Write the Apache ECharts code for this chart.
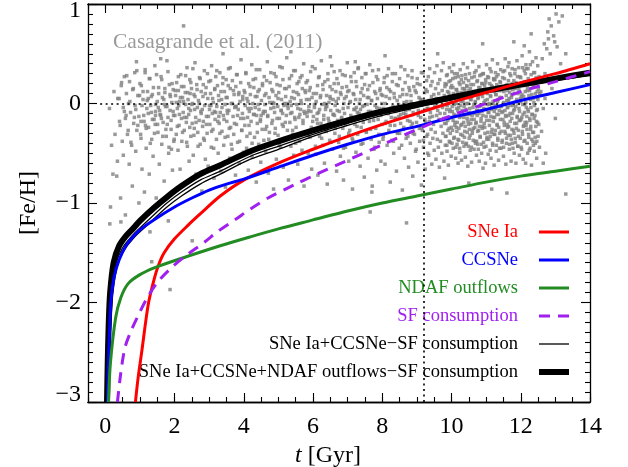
<!DOCTYPE html>
<html><head><meta charset="utf-8">
<script src="https://cdn.jsdelivr.net/npm/echarts@6/dist/echarts.min.js"></script>
<style>html,body{margin:0;padding:0;background:#fff}#c{width:628px;height:467px}</style>
</head><body><div id="c"></div>
<script>
// ---------- axis ticks / labels ----------
const xMajorTicks = [0, 2, 4, 6, 8, 10, 12, 14];
const yMajorTicks = [-3, -2, -1, 0, 1];
const xTitle = 't [Gyr]';
const yTitle = '[Fe/H]';
const sourceNote = 'Casagrande et al. (2011)';
const refLineFeH = 0;
const refLineAge = 9.2;

// ---------- model curves [t (Gyr), [Fe/H]] ----------
const snIaCurve = [[0.87,-3.0],[0.95,-2.75],[1.05,-2.5],[1.24,-2.02],[1.4,-1.78],[1.53,-1.63],[1.7,-1.5],[2.0,-1.36],[2.4,-1.22],[2.74,-1.11],[3.32,-0.93],[4.0,-0.77],[5.0,-0.6],[6.0,-0.46],[7.0,-0.33],[8.0,-0.21],[9.0,-0.1],[10.0,0.01],[11.0,0.11],[12.0,0.21],[13.0,0.3],[14.0,0.4]];
const ccsnCurve = [[0.06,-3.0],[0.1,-2.5],[0.16,-2.0],[0.25,-1.75],[0.4,-1.57],[0.6,-1.43],[0.8,-1.34],[1.0,-1.27],[1.4,-1.17],[2.0,-1.04],[2.5,-0.95],[3.0,-0.87],[3.5,-0.81],[4.0,-0.76],[5.0,-0.64],[6.0,-0.52],[7.0,-0.41],[8.0,-0.31],[9.0,-0.23],[10.0,-0.14],[11.0,-0.06],[12.0,0.03],[13.0,0.11],[14.0,0.19]];
const ndafCurve = [[0.09,-3.0],[0.15,-2.6],[0.3,-2.15],[0.45,-1.95],[0.66,-1.81],[1.0,-1.72],[1.43,-1.65],[2.17,-1.56],[3.32,-1.43],[4.19,-1.34],[5.0,-1.26],[6.0,-1.17],[7.0,-1.08],[8.0,-1.0],[9.0,-0.93],[10.0,-0.86],[11.0,-0.79],[12.0,-0.73],[13.0,-0.68],[14.0,-0.63]];
const sfCurve = [[0.35,-3.0],[0.45,-2.7],[0.57,-2.45],[0.75,-2.28],[0.95,-2.13],[1.2,-1.96],[1.5,-1.8],[1.91,-1.65],[2.4,-1.51],[2.84,-1.4],[3.27,-1.28],[3.74,-1.17],[4.19,-1.06],[4.7,-0.95],[5.5,-0.81],[6.11,-0.71],[7.0,-0.57],[8.03,-0.41],[9.0,-0.26],[10.0,-0.12],[11.0,0.0],[12.0,0.12],[13.0,0.22],[14.0,0.32]];
const thinModelCurve = [[0.06,-3.0],[0.09,-2.6],[0.13,-2.2],[0.18,-1.9],[0.3,-1.62],[0.5,-1.45],[0.8,-1.32],[1.0,-1.25],[1.4,-1.12],[1.78,-1.0],[2.2,-0.89],[2.74,-0.77],[3.32,-0.68],[4.19,-0.53],[5.0,-0.43],[6.0,-0.31],[7.0,-0.2],[8.0,-0.1],[9.0,-0.03],[10.0,0.05],[11.0,0.12],[12.0,0.18],[13.0,0.24],[14.0,0.3]];
const thinModelCurve2 = [[0.08,-3.0],[0.11,-2.6],[0.16,-2.2],[0.22,-1.9],[0.35,-1.63],[0.55,-1.47],[0.8,-1.36],[1.0,-1.29],[1.4,-1.16],[1.78,-1.04],[2.2,-0.93],[2.74,-0.81],[3.32,-0.71],[4.19,-0.56],[5.0,-0.46],[6.0,-0.33],[7.0,-0.22],[8.0,-0.12],[9.0,-0.04],[10.0,0.04],[11.0,0.11],[12.0,0.17],[13.0,0.23],[14.0,0.28]];
const fullModelCurve = [[0.05,-3.0],[0.07,-2.6],[0.1,-2.2],[0.14,-1.9],[0.24,-1.6],[0.4,-1.43],[0.6,-1.33],[0.82,-1.25],[1.0,-1.18],[1.4,-1.05],[1.78,-0.94],[2.2,-0.83],[2.74,-0.71],[3.32,-0.62],[4.19,-0.48],[5.0,-0.38],[6.0,-0.27],[7.0,-0.17],[8.0,-0.08],[9.0,-0.01],[10.0,0.06],[11.0,0.13],[12.0,0.19],[13.0,0.25],[14.0,0.31]];

// ---------- Casagrande et al. (2011) stars [age, [Fe/H]] ----------
const starsOldest = [[0.12,-0.05],[0.15,-1.04],[0.18,-0.42],[0.22,-0.71],[0.25,0.12],[0.28,-0.31],[0.33,-0.73],[0.36,0.05],[0.41,-0.18],[0.44,-0.95],[0.47,0.21],[0.52,-0.52],[0.55,-0.08],[0.58,-1.12],[0.62,0.28],[0.66,-0.27],[0.69,-0.61],[0.71,0.02],[0.74,-0.39],[0.78,-0.83],[0.81,0.15],[0.84,-0.14],[0.88,-0.48],[0.91,0.33],[0.94,-0.22],[0.97,-1.0],[0.99,0.08],[0.35,-0.58],[0.6,-0.12],[0.86,-0.02],
[1.02,-0.31],[1.04,0.18],[1.06,-0.66],[1.09,0.04],[1.11,-0.12],[1.13,-0.89],[1.15,0.31],[1.18,-0.45],[1.2,-0.05],[1.22,0.12],[1.25,-0.24],[1.27,-0.71],[1.29,0.25],[1.31,-0.02],[1.34,-0.36],[1.36,0.09],[1.38,-0.53],[1.41,-0.16],[1.43,0.38],[1.45,-0.08],[1.47,-0.95],[1.5,0.02],[1.52,-0.29],[1.54,0.16],[1.56,-0.61],[1.58,-0.11],[1.61,0.27],[1.63,-0.41],[1.65,0.06],[1.67,-0.19],[1.7,-0.78],[1.72,0.11],[1.74,-0.03],[1.76,-0.33],[1.78,0.43],[1.81,-0.14],[1.83,-0.5],[1.85,0.19],[1.87,-0.07],[1.9,-0.26],[1.92,0.01],[1.94,-0.67],[1.96,0.14],[1.98,-0.38],[1.03,-0.18],[1.16,-0.22],[1.24,0.05],[1.33,-0.09],[1.44,-0.21],[1.53,-0.04],[1.62,-0.15],[1.71,-0.01],[1.79,-0.21],[1.88,0.07],[1.97,-0.12],[1.45,-0.12],[1.91,-0.46]];
const starsOld = [[2.01,-0.12],[2.03,0.08],[2.05,-0.31],[2.06,0.21],[2.08,-0.05],[2.1,-0.47],[2.11,0.13],[2.13,-0.22],[2.15,0.02],[2.16,-0.66],[2.18,0.29],[2.2,-0.15],[2.21,-0.38],[2.23,0.06],[2.25,-0.09],[2.27,0.17],[2.28,-0.27],[2.29,-0.81],
[2.31,0.11],[2.32,-0.01],[2.34,-0.19],[2.36,0.36],[2.37,-0.43],[2.39,0.04],[2.41,-0.11],[2.42,-0.58],[2.44,0.24],[2.46,-0.07],[2.47,-0.33],[2.49,0.15],[2.51,-0.2],[2.52,0.0],[2.54,-0.52],[2.56,0.09],[2.57,-0.25],[2.59,0.41],
[2.61,-0.14],[2.62,-0.71],[2.64,0.19],[2.66,-0.04],[2.67,-0.29],[2.69,0.03],[2.71,-0.17],[2.72,0.26],[2.74,-0.41],[2.76,-0.08],[2.77,0.12],[2.79,-0.88],[2.81,-0.23],[2.82,0.07],[2.84,-0.35],[2.86,0.33],[2.87,-0.02],[2.89,-0.56],
[2.91,0.16],[2.92,-0.13],[2.94,-0.3],[2.96,0.05],[2.97,-0.63],[2.99,0.22],[3.01,-0.06],[3.02,-0.21],[3.04,0.1],[3.06,-0.44],[3.07,0.38],[3.09,-0.1],[3.11,-0.26],[3.12,0.01],[3.14,-0.75],[3.16,0.14],[3.17,-0.16],[3.19,0.27],
[3.21,-0.36],[3.22,-0.03],[3.24,0.18],[3.26,-0.5],[3.27,0.08],[3.29,-0.2],[3.31,0.31],[3.32,-0.09],[3.34,-0.68],[3.36,0.04],[3.37,-0.28],[3.39,0.2],[3.41,-0.12],[3.42,-0.42],[3.44,0.12],[3.46,-0.01],[3.47,-0.84],[3.49,0.24],
[3.51,-0.18],[3.52,0.06],[3.54,-0.33],[3.56,0.35],[3.57,-0.07],[3.59,-0.55],[3.61,0.15],[3.62,-0.24],[3.64,0.0],[3.66,-0.46],[3.67,0.23],[3.69,-0.13],[3.71,-0.31],[3.72,0.09],[3.74,-0.04],[3.76,-0.72],[3.77,0.17],[3.79,-0.21],
[3.81,0.29],[3.82,-0.39],[3.84,-0.06],[3.86,0.11],[3.87,-0.6],[3.89,0.02],[3.91,-0.15],[3.92,0.44],[3.94,-0.27],[3.96,-0.1],[3.97,0.07],[3.99,-0.49],
[2.12,-0.02],[2.35,-0.14],[2.58,-0.06],[2.83,-0.18],[3.05,-0.02],[3.28,-0.13],[3.53,-0.1],[3.78,-0.03],[2.45,0.1],[3.15,-0.08]];
const starsMidAge = [[4.01,0.13],[4.03,-0.22],[4.04,-0.02],[4.06,0.31],[4.08,-0.45],[4.09,0.05],[4.11,-0.14],[4.13,-0.67],[4.14,0.2],[4.16,-0.08],[4.18,-0.3],[4.19,0.09],[4.21,-0.18],[4.23,0.39],[4.24,-0.53],[4.26,0.0],[4.28,-0.11],[4.29,0.16],
[4.31,-0.34],[4.33,-0.04],[4.34,0.25],[4.36,-0.79],[4.38,0.07],[4.39,-0.2],[4.41,0.12],[4.43,-0.41],[4.44,-0.06],[4.46,0.34],[4.48,-0.16],[4.49,-0.59],[4.51,0.03],[4.53,-0.26],[4.54,0.18],[4.56,-0.1],[4.58,-0.37],[4.59,0.27],
[4.61,-0.01],[4.63,-0.48],[4.64,0.1],[4.66,-0.23],[4.68,0.42],[4.69,-0.13],[4.71,-0.7],[4.73,0.06],[4.74,-0.29],[4.76,0.21],[4.78,-0.05],[4.79,-0.4],[4.81,0.14],[4.83,-0.17],[4.84,0.01],[4.86,-0.86],[4.88,0.3],[4.89,-0.09],
[4.91,-0.25],[4.93,0.08],[4.94,-0.56],[4.96,0.19],[4.98,-0.03],[4.99,-0.32],[5.01,0.11],[5.03,-0.15],[5.04,0.37],[5.06,-0.44],[5.08,-0.07],[5.09,0.04],[5.11,-0.21],[5.13,0.24],[5.14,-0.64],[5.16,-0.02],[5.18,0.15],[5.19,-0.35],
[5.21,0.07],[5.23,-0.12],[5.24,0.46],[5.26,-0.27],[5.28,-0.05],[5.29,-0.77],[5.31,0.17],[5.33,-0.19],[5.34,0.02],[5.36,-0.43],[5.38,0.28],[5.39,-0.09],[5.41,-0.31],[5.43,0.12],[5.44,-0.52],[5.46,0.05],[5.48,-0.16],[5.49,0.33],
[5.51,-0.24],[5.53,-0.01],[5.54,0.2],[5.56,-0.61],[5.58,0.09],[5.59,-0.14],[5.61,-0.38],[5.63,0.26],[5.64,-0.06],[5.66,0.0],[5.68,-0.47],[5.69,0.15],[5.71,-0.2],[5.73,0.4],[5.74,-0.83],[5.76,-0.1],[5.78,0.11],[5.79,-0.29],
[5.81,0.04],[5.83,-0.13],[5.84,0.23],[5.86,-0.5],[5.88,-0.03],[5.89,0.13],[5.91,-0.34],[5.93,0.32],[5.94,-0.08],[5.96,-0.66],[5.97,0.06],[5.99,-0.18],
[4.12,-0.05],[4.37,-0.12],[4.62,-0.08],[4.87,0.0],[5.12,-0.1],[5.37,-0.02],[5.62,-0.11],[5.87,-0.07],[4.5,-0.12],[5.25,0.0]];
const starsYoung = [[6.01,0.1],[6.03,-0.26],[6.04,-0.04],[6.06,0.35],[6.08,-0.51],[6.09,0.02],[6.11,-0.16],[6.13,0.18],[6.14,-0.72],[6.16,-0.09],[6.18,0.27],[6.19,-0.33],[6.21,0.06],[6.23,-0.2],[6.24,0.43],[6.26,-0.01],[6.28,-0.42],[6.29,0.14],
[6.31,-0.12],[6.33,-0.6],[6.34,0.22],[6.36,-0.06],[6.38,-0.28],[6.39,0.08],[6.41,-0.81],[6.43,0.3],[6.44,-0.15],[6.46,0.01],[6.48,-0.37],[6.49,0.17],[6.51,-0.07],[6.53,-0.23],[6.54,0.38],[6.56,-0.46],[6.58,0.04],[6.59,-0.11],
[6.61,0.2],[6.63,-0.3],[6.64,-0.02],[6.66,0.12],[6.68,-0.68],[6.69,0.25],[6.71,-0.17],[6.73,0.05],[6.74,-0.39],[6.76,-0.08],[6.78,0.33],[6.79,-0.53],[6.81,0.09],[6.83,-0.14],[6.84,0.16],[6.86,-0.25],[6.88,-0.77],[6.89,0.0],
[6.91,-0.1],[6.93,0.28],[6.94,-0.44],[6.96,0.07],[6.98,-0.19],[6.99,0.41],[7.01,-0.04],[7.03,-0.58],[7.04,0.13],[7.06,-0.27],[7.08,0.02],[7.09,-0.12],[7.11,0.22],[7.13,-0.35],[7.14,-0.86],[7.16,0.1],[7.18,-0.06],[7.19,0.31],
[7.21,-0.21],[7.23,0.04],[7.24,-0.49],[7.26,0.17],[7.28,-0.09],[7.29,-0.31],[7.31,0.36],[7.33,-0.15],[7.34,0.0],[7.36,-0.63],[7.38,0.11],[7.39,-0.24],[7.41,0.26],[7.43,-0.03],[7.44,-0.4],[7.46,0.08],[7.48,-0.74],[7.49,0.19],
[7.51,-0.13],[7.53,0.3],[7.54,-0.29],[7.56,-0.01],[7.58,0.14],[7.59,-0.55],[7.61,0.06],[7.63,-0.18],[7.64,0.39],[7.66,-0.08],[7.68,-0.36],[7.69,0.03],[7.71,-0.83],[7.73,0.21],[7.74,-0.11],[7.76,-0.46],[7.78,0.12],[7.79,-0.02],
[7.81,-0.25],[7.83,0.27],[7.84,-0.67],[7.86,0.05],[7.88,-0.16],[7.89,0.34],[7.91,-0.39],[7.93,-0.05],[7.94,0.15],[7.96,-0.58],[7.97,0.09],[7.99,-0.21],
[6.12,-0.1],[6.37,-0.03],[6.62,-0.12],[6.87,-0.05],[7.12,-0.14],[7.37,-0.06],[7.62,-0.1],[7.87,-0.09],[6.5,0.05],[7.25,-0.04]];
const starsYounger = [[8.01,0.08],[8.03,-0.33],[8.04,-0.05],[8.06,0.26],[8.08,-0.61],[8.09,0.0],[8.11,-0.18],[8.13,0.16],[8.14,-0.42],[8.16,-0.1],[8.18,0.35],[8.19,-0.27],[8.21,0.05],[8.23,-0.79],[8.24,0.12],[8.26,-0.14],[8.28,-0.37],[8.29,0.22],
[8.31,-0.03],[8.33,-0.5],[8.34,0.1],[8.36,-0.22],[8.38,0.3],[8.39,-0.08],[8.41,-0.68],[8.43,0.03],[8.44,-0.3],[8.46,0.18],[8.48,-0.13],[8.49,-0.45],[8.51,0.07],[8.53,-0.2],[8.54,0.37],[8.56,-0.04],[8.58,-0.87],[8.59,0.14],
[8.61,-0.26],[8.63,0.01],[8.64,-0.55],[8.66,0.21],[8.68,-0.11],[8.69,-0.35],[8.71,0.09],[8.73,-0.17],[8.74,0.28],[8.76,-0.64],[8.78,-0.06],[8.79,0.13],[8.81,-0.4],[8.83,0.02],[8.84,-0.23],[8.86,0.33],[8.88,-0.73],[8.89,-0.09],
[8.91,0.17],[8.93,-0.31],[8.94,-0.02],[8.96,-0.48],[8.98,0.11],[8.99,-0.19],[9.01,0.25],[9.03,-0.59],[9.04,-0.07],[9.06,0.06],[9.08,-0.38],[9.09,0.19],[9.11,-0.14],[9.13,-0.82],[9.14,0.04],[9.16,-0.27],[9.18,0.31],[9.19,-0.44],
[9.21,0.0],[9.23,-0.16],[9.24,-0.66],[9.26,0.14],[9.28,-0.33],[9.29,-0.05],
[8.12,-0.08],[8.37,-0.15],[8.62,-0.1],[8.87,-0.2],[9.12,-0.25],[8.5,-0.3]];
const starsBand = [[0.4,0.05],[0.43,-0.22],[0.46,0.18],[0.49,-0.38],[0.52,-0.04],[0.55,0.27],[0.58,-0.15],[0.61,0.1],[0.64,-0.31],[0.67,0],[0.7,0.22],[0.73,-0.09],[0.76,-0.42],[0.79,0.14],[0.82,-0.2],[0.85,0.31],[0.88,-0.06],[0.91,-0.27],[0.94,0.08],[0.97,-0.13],
[1,0.2],[1.03,-0.35],[1.06,-0.02],[1.09,0.12],[1.12,-0.18],[1.15,0.34],[1.18,-0.25],[1.21,0.03],[1.24,-0.1],[1.27,0.25],[1.3,-0.4],[1.33,0.07],[1.36,-0.16],[1.39,0.16],[1.42,-0.3],[1.45,-0.01],[1.48,0.29],[1.51,-0.21],[1.54,0.1],[1.57,-0.07],
[1.6,-0.12],[1.63,0.24],[1.66,-0.33],[1.69,0.04],[1.72,0.15],[1.75,-0.26],[1.78,-0.03],[1.81,0.32],[1.84,-0.44],[1.87,0.09],[1.9,-0.17],[1.93,0.2],[1.96,-0.08],[1.99,-0.36],[2.02,0.13],[2.05,0.01],[2.08,-0.23],[2.11,0.27],[2.14,-0.11],[2.17,0.06],
[2.2,0.17],[2.23,-0.29],[2.26,0.02],[2.29,-0.14],[2.32,0.28],[2.35,-0.39],[2.38,0.11],[2.41,-0.05],[2.44,-0.24],[2.47,0.21],[2.5,-0.01],[2.53,0.35],[2.56,-0.32],[2.59,0.07],[2.62,-0.19],[2.65,0.14],[2.68,-0.43],[2.71,0],[2.74,0.25],[2.77,-0.1],
[2.8,-0.06],[2.83,0.19],[2.86,-0.37],[2.89,0.1],[2.92,-0.21],[2.95,0.3],[2.98,-0.13],[3.01,-0.02],[3.04,0.23],[3.07,-0.28],[3.1,0.05],[3.13,-0.45],[3.16,0.15],[3.19,-0.09],[3.22,0.33],[3.25,-0.18],[3.28,0.03],[3.31,-0.3],[3.34,0.12],[3.37,-0.04],
[3.4,0.26],[3.43,-0.16],[3.46,-0.34],[3.49,0.06],[3.52,-0.07],[3.55,0.18],[3.58,-0.25],[3.61,0.36],[3.64,-0.41],[3.67,0],[3.7,0.13],[3.73,-0.2],[3.76,-0.03],[3.79,0.29],[3.82,-0.12],[3.85,0.09],[3.88,-0.38],[3.91,0.21],[3.94,-0.27],[3.97,0.04],
[4,-0.15],[4.03,0.11],[4.06,0.3],[4.09,-0.33],[4.12,0.02],[4.15,-0.22],[4.18,0.17],[4.21,-0.05],[4.24,-0.4],[4.27,0.24],[4.3,-0.11],[4.33,0.07],[4.36,0.34],[4.39,-0.29],[4.42,-0.01],[4.45,0.14],[4.48,-0.18],[4.51,-0.44],[4.54,0.2],[4.57,-0.08],
[4.6,0.08],[4.63,-0.26],[4.66,0.23],[4.69,-0.12],[4.72,-0.36],[4.75,0.01],[4.78,0.31],[4.81,-0.2],[4.84,0.12],[4.87,-0.04],[4.9,-0.3],[4.93,0.27],[4.96,-0.15],[4.99,0.05],[5.02,-0.42],[5.05,0.18],[5.08,-0.07],[5.11,0.36],[5.14,-0.23],[5.17,0],
[5.2,-0.19],[5.23,0.15],[5.26,-0.02],[5.29,-0.35],[5.32,0.25],[5.35,-0.1],[5.38,0.06],[5.41,-0.27],[5.44,0.33],[5.47,-0.14],[5.5,-0.4],[5.53,0.11],[5.56,-0.05],[5.59,0.22],[5.62,-0.31],[5.65,0.03],[5.68,0.28],[5.71,-0.17],[5.74,-0.08],[5.77,0.13],
[5.8,0.21],[5.83,-0.09],[5.86,-0.32],[5.89,0.04],[5.92,0.16],[5.95,-0.24],[5.98,0.37],[6.01,-0.13],[6.04,-0.01],[6.07,-0.43],[6.1,0.1],[6.13,-0.2],[6.16,0.26],[6.19,-0.06],[6.22,0.08],[6.25,-0.35],[6.28,0.19],[6.31,-0.16],[6.34,0],[6.37,-0.28],
[6.4,-0.03],[6.43,0.24],[6.46,-0.18],[6.49,0.07],[6.52,-0.39],[6.55,0.14],[6.58,-0.11],[6.61,0.32],[6.64,-0.25],[6.67,0.02],[6.7,-0.07],[6.73,0.2],[6.76,-0.33],[6.79,0.11],[6.82,-0.15],[6.85,0.29],[6.88,-0.45],[6.91,0.05],[6.94,-0.21],[6.97,0.17],
[7,0.12],[7.03,-0.3],[7.06,0.01],[7.09,0.27],[7.12,-0.14],[7.15,-0.37],[7.18,0.09],[7.21,-0.06],[7.24,0.22],[7.27,-0.23],[7.3,0.35],[7.33,-0.1],[7.36,0.04],[7.39,-0.41],[7.42,0.15],[7.45,-0.19],[7.48,-0.02],[7.51,0.3],[7.54,-0.28],[7.57,0.06],
[7.6,-0.08],[7.63,0.18],[7.66,-0.26],[7.69,0.03],[7.72,0.33],[7.75,-0.17],[7.78,-0.44],[7.81,0.1],[7.84,-0.04],[7.87,0.24],[7.9,-0.31],[7.93,0.13],[7.96,-0.12],[7.99,0],[8.02,-0.36],[8.05,0.21],[8.08,-0.2],[8.11,0.07],[8.14,0.28],[8.17,-0.1],
[8.2,0.14],[8.23,-0.22],[8.26,-0.05],[8.29,0.3],[8.32,-0.38],[8.35,0.06],[8.38,-0.15],[8.41,0.19],[8.44,-0.29],[8.47,-0.01],[8.5,0.25],[8.53,-0.11],[8.56,-0.42],[8.59,0.09],[8.62,-0.24],[8.65,0.34],[8.68,-0.07],[8.71,0.02],[8.74,-0.33],[8.77,0.16],
[8.8,-0.18],[8.83,0.08],[8.86,0.26],[8.89,-0.3],[8.92,-0.03],[8.95,0.13],[8.98,-0.46],[9.01,0.2],[9.04,-0.12],[9.07,-0.25],[9.1,0.04],[9.13,0.31],[9.16,-0.08],[9.19,-0.37],[9.22,0.11],[9.25,-0.19],[9.28,0.23],[9.31,-0.5],[9.34,0],[9.37,-0.14]];
const starsYoungestA = [[9.3,0.12],[9.31,-0.31],[9.32,-0.05],[9.33,0.27],[9.34,-0.52],[9.35,0.03],[9.36,-0.18],[9.37,0.35],[9.38,-0.4],[9.39,-0.09],[9.4,0.18],[9.41,-0.26],[9.42,0.07],[9.43,-0.61],[9.44,0.22],[9.45,-0.13],[9.46,-0.35],[9.47,0.01],
[9.48,-0.21],[9.49,0.09],[9.5,-0.47],[9.51,0.31],[9.52,-0.02],[9.53,-0.29],[9.54,0.15],[9.55,-0.56],[9.56,0.05],[9.57,-0.12],[9.58,0.38],[9.59,-0.36],[9.6,-0.07],[9.61,0.2],[9.62,-0.44],[9.63,0.1],[9.64,-0.16],[9.65,-0.64],
[9.66,0.24],[9.67,-0.1],[9.68,-0.38],[9.69,0.02],[9.7,-0.23],[9.71,0.33],[9.72,-0.5],[9.73,0.13],[9.74,-0.04],[9.75,-0.3],[9.76,0.41],[9.77,-0.15],[9.78,-0.58],[9.79,0.08],[9.8,-0.2],[9.81,0.17],[9.82,-0.42],[9.83,-0.01],
[9.84,-0.33],[9.85,0.19],[9.86,-0.06],[9.87,-0.48],[9.88,0.29],[9.89,-0.17],[9.9,0.04],[9.91,-0.62],[9.92,0.11],[9.93,-0.25],[9.94,0.36],[9.95,-0.08],[9.96,-0.39],[9.97,0.23],[9.98,-0.14],[9.99,-0.53],[10,0.06],[10.01,0.32],
[10.02,-0.03],[10.03,-0.27],[10.04,0.16],[10.05,-0.45],[10.06,0.39],[10.07,-0.11],[10.08,-0.34],[10.09,0.08],[10.1,-0.19],[10.11,0.26],[10.12,-0.55],[10.13,0],[10.14,-0.24],[10.15,0.14],[10.16,-0.41],[10.17,0.3],[10.18,-0.07],[10.19,-0.6],
[10.2,0.05],[10.21,-0.37],[10.22,0.21],[10.23,-0.14],[10.24,-0.49],[10.25,0.34],[10.26,-0.02],[10.27,-0.22],[10.28,0.11],[10.29,-0.57],[10.3,0.28],[10.31,-0.09],[10.32,-0.32],[10.33,0.02],[10.34,0.4],[10.35,-0.19],[10.36,-0.43],[10.37,0.15],
[10.38,-0.28],[10.39,0.08],[10.4,-0.54],[10.41,0.25],[10.42,-0.06],[10.43,-0.4],[10.44,0.18],[10.45,-0.15],[10.46,0.36],[10.47,-0.63],[10.48,0],[10.49,-0.21],[10.5,0.13],[10.51,-0.35],[10.52,0.3],[10.53,-0.11],[10.54,-0.47],[10.55,0.04],
[10.56,0.19],[10.57,-0.16],[10.58,-0.59],[10.59,0.07],[10.6,-0.3],[10.61,0.42],[10.62,-0.04],[10.63,-0.25],[10.64,0.12],[10.65,-0.46],[10.66,0.27],[10.67,-0.1],[10.68,-0.38],[10.69,0.01],[10.7,-0.2],[10.71,0.33],[10.72,-0.52],[10.73,-0.07],
[10.74,-0.12],[10.75,0.23],[10.76,-0.41],[10.77,0.06],[10.78,-0.27],[10.79,0.37],[10.8,-0.58],[10.81,-0.03],[10.82,0.16],[10.83,-0.34],[10.84,0.09],[10.85,-0.18],[10.86,0.29],[10.87,-0.5],[10.88,-0.08],[10.89,0.2],[10.9,-0.23],[10.91,-0.65],
[10.92,0.3],[10.93,-0.05],[10.94,-0.44],[10.95,0.14],[10.96,-0.24],[10.97,0.03],[10.98,-0.6],[10.99,0.21],[11,-0.13],[11.01,0.39],[11.02,-0.36],[11.03,-0.01],[11.04,0.1],[11.05,-0.29],[11.06,-0.51],[11.07,0.26],[11.08,-0.09],[11.09,0],
[11.1,-0.17],[11.11,0.35],[11.12,-0.33],[11.13,0.07],[11.14,-0.55],[11.15,0.18],[11.16,-0.06],[11.17,-0.26],[11.18,0.44],[11.19,-0.42],[11.2,0.02],[11.21,-0.14],[11.22,0.24],[11.23,-0.62],[11.24,0.12],[11.25,-0.31],[11.26,-0.02],[11.27,0.31],
[11.28,0.09],[11.29,-0.48],[11.3,0.27],[11.31,-0.11],[11.32,-0.22],[11.33,0.4],[11.34,-0.37],[11.35,0.04],[11.36,-0.57],[11.37,0.17],[11.38,-0.07],[11.39,-0.3],[11.4,0.22],[11.41,-0.16],[11.42,0.34],[11.43,-0.45],[11.44,-0.03],[11.45,0.13],
[11.46,-0.39],[11.47,0.16],[11.48,-0.08],[11.49,0.32],[11.5,-0.53],[11.51,0.01],[11.52,-0.19],[11.53,0.25],[11.54,-0.28],[11.55,0.45],[11.56,-0.12],[11.57,-0.61],[11.58,0.08],[11.59,-0.35],[11.6,0.19],[11.61,-0.04],[11.62,-0.24],[11.63,0.37],
[11.64,0.03],[11.65,-0.23],[11.66,0.41],[11.67,-0.46],[11.68,0.11],[11.69,-0.1],[11.7,-0.32],[11.71,0.28],[11.72,-0.58],[11.73,0.06],[11.74,-0.15],[11.75,0.35],[11.76,-0.4],[11.77,0.14],[11.78,-0.02],[11.79,-0.27],[11.8,0.23],[11.81,-0.5],
[11.82,-0.06],[11.83,0.3],[11.84,-0.35],[11.85,0.15],[11.86,-0.6],[11.87,0.02],[11.88,-0.2],[11.89,0.43],[11.9,-0.13],[11.91,-0.43],[11.92,0.1],[11.93,-0.27],[11.94,0.36],[11.95,-0.05],[11.96,-0.52],[11.97,0.2],[11.98,-0.17],[11.99,0.05],
[12,0.26],[12.01,-0.44],[12.02,0.07],[12.03,-0.14],[12.04,0.48],[12.05,-0.31],[12.06,-0.01],[12.07,-0.56],[12.08,0.18],[12.09,-0.22],[12.1,0.33],[12.11,-0.09],[12.12,-0.37],[12.13,0.12],[12.14,-0.6],[12.15,0.39],[12.16,-0.04],[12.17,-0.19],
[12.18,-0.26],[12.19,0.13],[12.2,-0.5],[12.21,0.35],[12.22,-0.08],[12.23,-0.34],[12.24,0.21],[12.25,0.52],[12.26,-0.15],[12.27,-0.45],[12.28,0.04],[12.29,-0.23],[12.3,0.29],[12.31,-0.62],[12.32,0.09],[12.33,-0.11],[12.34,0.42],[12.35,-0.38],
[12.36,0.17],[12.37,-0.29],[12.38,0.01],[12.39,-0.48],[12.4,0.31],[12.41,-0.12],[12.42,-0.4],[12.43,0.24],[12.44,0.46],[12.45,-0.18],[12.46,-0.55],[12.47,0.06],[12.48,-0.06],[12.49,0.38],[12.5,-0.33],[12.51,0.15],[12.52,-0.21],[12.53,0.27],[12.54,-0.44],[12.55,0.1]];
const starsYoungestB = [[9.805,-0.1],[9.815,0.2],[9.825,-0.33],[9.835,0.05],[9.845,-0.2],[9.855,0.28],[9.865,-0.42],[9.875,-0.02],[9.885,0.12],[9.895,-0.27],[9.905,0],[9.915,-0.15],[9.925,0.22],[9.935,-0.38],[9.945,0.08],[9.955,-0.06],[9.965,-0.3],[9.975,0.16],
[9.985,0.03],[9.995,-0.24],[10.005,0.18],[10.015,-0.4],[10.025,-0.08],[10.035,0.25],[10.045,-0.17],[10.055,0.1],[10.065,-0.35],[10.075,-0.01],[10.085,0.3],[10.095,-0.22],[10.105,-0.12],[10.115,0.06],[10.125,-0.44],[10.135,0.14],[10.145,-0.05],[10.155,-0.28],
[10.165,-0.19],[10.175,0.11],[10.185,-0.36],[10.195,0.27],[10.205,-0.04],[10.215,-0.25],[10.225,0.07],[10.235,-0.45],[10.245,0.19],[10.255,-0.13],[10.265,-0.31],[10.275,0.02],[10.285,0.24],[10.295,-0.21],[10.305,-0.07],[10.315,0.15],[10.325,-0.39],[10.335,0.09],
[10.345,0.21],[10.355,-0.14],[10.365,-0.03],[10.375,-0.34],[10.385,0.13],[10.395,-0.23],[10.405,0.29],[10.415,-0.41],[10.425,0],[10.435,-0.11],[10.445,0.17],[10.455,-0.29],[10.465,0.06],[10.475,-0.18],[10.485,-0.43],[10.495,0.23],[10.505,-0.09],[10.515,-0.26],
[10.525,-0.05],[10.535,-0.32],[10.545,0.15],[10.555,-0.2],[10.565,0.04],[10.575,-0.44],[10.585,0.26],[10.595,-0.12],[10.605,-0.27],[10.615,0.09],[10.625,-0.37],[10.635,0.19],[10.645,-0.01],[10.655,-0.16],[10.665,0.31],[10.675,-0.24],[10.685,0.02],[10.695,-0.4],
[10.705,0.1],[10.715,-0.19],[10.725,-0.38],[10.735,0.22],[10.745,-0.07],[10.755,-0.28],[10.765,0.05],[10.775,-0.46],[10.785,0.16],[10.795,-0.1],[10.805,-0.23],[10.815,0.28],[10.825,-0.33],[10.835,-0.02],[10.845,0.12],[10.855,-0.15],[10.865,-0.41],[10.875,0.2],
[10.885,-0.25],[10.895,0.07],[10.905,-0.12],[10.915,0.3],[10.925,-0.39],[10.935,0.01],[10.945,-0.2],[10.955,0.18],[10.965,-0.3],[10.975,-0.06],[10.985,0.24],[10.995,-0.43],[11.005,0.11],[11.015,-0.17],[11.025,-0.34],[11.035,0.04],[11.045,0.27],[11.055,-0.09],
[11.065,0.14],[11.075,-0.36],[11.085,-0.01],[11.095,-0.22],[11.105,0.2],[11.115,-0.47],[11.125,0.08],[11.135,-0.13],[11.145,0.32],[11.155,-0.29],[11.165,-0.04],[11.175,0.17],[11.185,-0.4],[11.195,0],[11.205,-0.18],[11.215,0.25],[11.225,-0.31],[11.235,-0.08],
[11.245,-0.14],[11.255,0.24],[11.265,-0.27],[11.275,-0.05],[11.285,0.09],[11.295,-0.42],[11.305,0.19],[11.315,-0.21],[11.325,0.02],[11.335,-0.35],[11.345,0.29],[11.355,-0.11],[11.365,-0.24],[11.375,0.13],[11.385,-0.45],[11.395,0.06],[11.405,-0.03],[11.415,0.21],
[11.425,0.06],[11.435,-0.28],[11.445,0.16],[11.455,-0.09],[11.465,-0.37],[11.475,0.26],[11.485,-0.16],[11.495,0],[11.505,-0.44],[11.515,0.12],[11.525,-0.22],[11.535,0.33],[11.545,-0.07],[11.555,-0.3],[11.565,0.18],[11.575,-0.13],[11.585,-0.4],[11.595,0.03],
[11.605,-0.21],[11.615,0.13],[11.625,-0.04],[11.635,-0.32],[11.645,0.23],[11.655,-0.12],[11.665,0.05],[11.675,-0.41],[11.685,0.3],[11.695,-0.18],[11.705,-0.02],[11.715,0.15],[11.725,-0.36],[11.735,0.08],[11.745,-0.26],[11.755,0.2],[11.765,-0.1],[11.775,-0.45],
[11.785,0.18],[11.795,-0.07],[11.805,-0.3],[11.815,0.1],[11.825,-0.2],[11.835,0.34],[11.845,-0.39],[11.855,-0.03],[11.865,0.21],[11.875,-0.25],[11.885,0.04],[11.895,-0.14],[11.905,0.27],[11.915,-0.43],[11.925,0],[11.935,-0.33],[11.945,0.14],[11.955,-0.17],
[11.965,-0.08],[11.975,0.27],[11.985,-0.35],[11.995,0.02],[12.005,-0.16],[12.015,0.19],[12.025,-0.46],[12.035,0.09],[12.045,-0.28],[12.055,0.36],[12.065,-0.11],[12.075,-0.23],[12.085,0.07],[12.095,-0.38],[12.105,0.22],[12.115,-0.01],[12.125,-0.19],[12.135,0.3],
[12.145,0.01],[12.155,-0.22],[12.165,0.35],[12.175,-0.13],[12.185,-0.4],[12.195,0.16],[12.205,-0.06],[12.215,0.25],[12.225,-0.31],[12.235,0.08],[12.245,-0.47],[12.255,0.13],[12.265,-0.17],[12.275,0.39],[12.285,-0.26],[12.295,-0.04],[12.305,0.2],[12.315,-0.36],
[12.325,-0.11],[12.335,0.22],[12.345,-0.29],[12.355,0.05],[12.365,-0.42],[12.375,0.31],[12.385,-0.15],[12.395,-0.02],[12.405,0.17],[12.415,-0.34],[12.425,0.1],[12.435,-0.23],[12.445,0.26],[12.455,-0.07],[12.465,-0.38],[12.475,0.12],[12.485,-0.19],[12.495,0.04]];
const starsOutliers = [[0.13,-1.21],[0.45,-1.19],[1.29,-1.29],[1.34,-1.59],[1.87,-1.87],[2.51,-1.38],[1.82,-1.18],[2.26,0.78],[0.9,0.42],[1.6,0.45],[3.4,0.5],[5.36,0.52],[8.08,0.48],[7.7,-0.89],[7.65,-1.09],[7.22,0.42],[6.5,0.47],[8.7,-1.2],
[11.16,-0.86],[11.6,-0.9],[10.5,-0.8],[9.8,-0.75],[10.9,0.6],[11.8,0.62],[12.1,0.58],[12.3,0.7],[9.6,0.5],
[12.58,0.12],[12.6,-0.28],[12.62,0.45],[12.65,-0.05],[12.68,0.6],[12.7,0.3],[12.72,-0.5],[12.75,0.55],[12.78,0.72],[12.8,0.65],[12.82,0.85],[12.85,0.5],[12.88,0.78],[12.9,0.15],[12.95,0.68],[12.98,0.62],[13.02,0.9],[13.05,0.57],[13.1,0.82],[13.15,0.4],[13.2,0.88],[13.3,0.5],[13.3,-0.91],[13.0,-0.15],[12.65,-0.6],[12.7,0.05]];

// ---------- styling ----------
const SERIF = 'Liberation Serif';
const C = { red:'#ff0000', blue:'#0000ff', green:'#228b22', purple:'#a020f0', black:'#000000', gray:'#808080' };
const minus = v => String(v).replace('-', '\u2212');

const xMinorTicks = [];
for (let v = -0.5; v <= 14.001; v += 0.5) xMinorTicks.push(+v.toFixed(2));

const xMin = -0.5, xMax = 14, yMin = -3, yMax = 1;
const axisLine = { show: true, onZero: false, lineStyle: { color: '#000', width: 1.3 } };

function xAxisDef(position, ticks, len, labels) {
  return {
    type: 'value', position, min: xMin, max: xMax, gridIndex: 0,
    axisLine, splitLine: { show: false },
    axisTick: { show: true, inside: true, length: len, customValues: ticks, lineStyle: { color: '#000', width: 1.1 } },
    axisLabel: labels ? { show: true, customValues: ticks, fontFamily: SERIF, fontSize: 24, color: '#000', margin: 13 } : { show: false },
  };
}

const chart = echarts.init(document.getElementById('c'), null, { renderer: 'canvas' });

const lineSeries = (name, data, color, width, dash, z) => ({
  name, type: 'line', data, xAxisIndex: 0, yAxisIndex: 0,
  symbol: 'none', smooth: 0.3, clip: true, silent: true, z,
  lineStyle: { color, width, type: dash || 'solid', cap: 'butt' },
  itemStyle: { color }, emphasis: { disabled: true }
});

const allStars = [].concat(starsOldest, starsOld, starsMidAge, starsYoung, starsYounger, starsBand, starsYoungestA, starsYoungestB, starsOutliers);

const legendNames = ['SNe Ia', 'CCSNe', 'NDAF outflows', 'SF consumption',
  'SNe Ia+CCSNe\u2212SF consumption', 'SNe Ia+CCSNe+NDAF outflows\u2212SF consumption'];
const legendColors = [C.red, C.blue, C.green, C.purple, C.black, C.black];
const legendWidths = [3, 3, 3, 3, 1.3, 6];

chart.setOption({
  animation: false,
  backgroundColor: '#fff',
  title: { text: sourceNote, left: 108, top: 26, textStyle: { fontFamily: SERIF, fontSize: 21.5, fontWeight: 'normal', color: '#9a9a9a' } },
  grid: { left: 88, right: 38, top: 4, bottom: 65, containLabel: false, outerBoundsMode: 'none' },
  xAxis: [
    Object.assign(xAxisDef('bottom', xMajorTicks, 9, true), {
      name: '{i|t} [Gyr]', nameLocation: 'middle', nameGap: 38,
      nameTextStyle: { fontFamily: SERIF, fontSize: 24, color: '#000', padding: [0, 22, 0, 0],
        rich: { i: { fontFamily: SERIF, fontSize: 24, fontStyle: 'italic', color: '#000' } } }
    }),
    xAxisDef('bottom', xMinorTicks, 5, false),
    xAxisDef('top', xMajorTicks, 9, false),
    xAxisDef('top', xMinorTicks, 5, false),
  ],
  yAxis: [
    { type: 'value', position: 'left', min: yMin, max: yMax, interval: 1,
      axisLine, splitLine: { show: false },
      axisTick: { show: true, inside: true, length: 9, lineStyle: { color: '#000', width: 1.1 } },
      minorTick: { show: true, splitNumber: 10, length: 5, lineStyle: { color: '#000', width: 1.1 } },
      axisLabel: { fontFamily: SERIF, fontSize: 24, lineHeight: 14, color: '#000', margin: 7, formatter: v => minus(v),
        verticalAlignMinLabel: 'bottom', verticalAlignMaxLabel: 'top' },
      name: yTitle, nameLocation: 'middle', nameGap: 47, nameRotate: 90,
      nameTextStyle: { fontFamily: SERIF, fontSize: 24, color: '#000' } },
    { type: 'value', position: 'right', min: yMin, max: yMax, interval: 1,
      axisLine, splitLine: { show: false },
      axisTick: { show: true, inside: true, length: 9, lineStyle: { color: '#000', width: 1.1 } },
      minorTick: { show: true, splitNumber: 10, length: 5, lineStyle: { color: '#000', width: 1.1 } },
      axisLabel: { show: false } }
  ],
  legend: {
    orient: 'vertical', right: 51, top: 217, align: 'right',
    itemWidth: 30, itemHeight: 14, itemGap: 8, selectedMode: false,
    itemStyle: { opacity: 0 },
    data: legendNames.map((n, i) => ({ name: n, textStyle: { color: legendColors[i] },
      lineStyle: { width: legendWidths[i], color: legendColors[i] } })),
    formatter: n => '{t|' + n + '}{g|}',
    textStyle: { fontFamily: SERIF, fontSize: 18.5, lineHeight: 20,
      rich: { t: { fontFamily: SERIF, fontSize: 18.5, lineHeight: 20 }, g: { width: 16 } } }
  },
  series: [
    { name: 'stars', type: 'scatter', data: allStars, xAxisIndex: 0, yAxisIndex: 0,
      symbol: 'rect', symbolSize: 3.5, silent: true, z: 1, large: false,
      itemStyle: { color: C.gray },
      markLine: { silent: true, symbol: 'none', label: { show: false },
        lineStyle: { color: '#000', type: [2, 3.5], width: 1.6 },
        data: [
          [{ coord: [-0.15, refLineFeH] }, { coord: [xMax, refLineFeH] }],
          [{ coord: [refLineAge, yMin] }, { coord: [refLineAge, yMax] }]
        ] } },
    lineSeries('thin variant', thinModelCurve2, C.black, 1.3, null, 3),
    lineSeries(legendNames[4], thinModelCurve, C.black, 1.3, null, 3),
    lineSeries(legendNames[5], fullModelCurve, C.black, 6, null, 4),
    lineSeries(legendNames[0], snIaCurve, C.red, 3, null, 5),
    lineSeries(legendNames[1], ccsnCurve, C.blue, 3, null, 5),
    lineSeries(legendNames[2], ndafCurve, C.green, 3, null, 5),
    lineSeries(legendNames[3], sfCurve, C.purple, 3, [11, 8], 5),
  ]
});
</script>
</body></html>
